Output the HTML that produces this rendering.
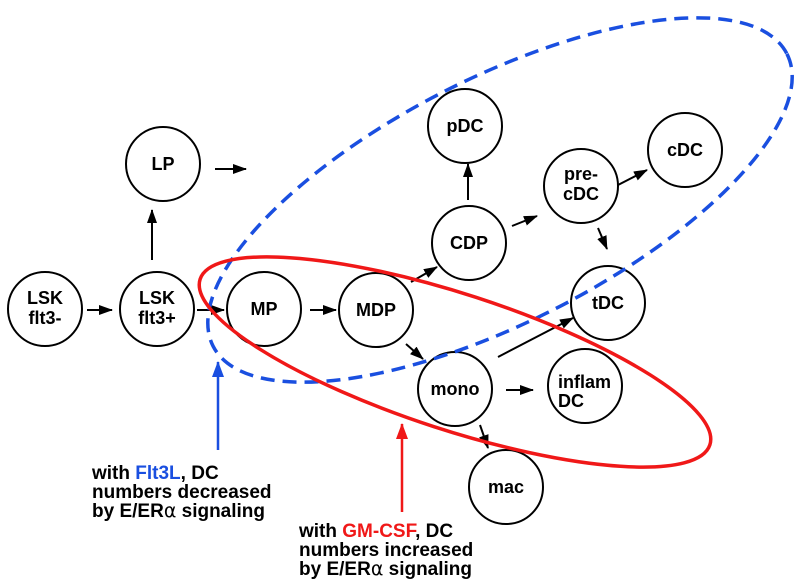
<!DOCTYPE html>
<html><head><style>body{margin:0;background:#fff}svg{display:block}
text{font-family:"Liberation Sans",Arial,sans-serif;font-weight:bold;font-size:18px;fill:#000}
.n{text-anchor:middle}
.lab{font-size:19px}
</style></head><body>
<svg width="800" height="586" viewBox="0 0 800 586">
<defs><marker id="a" markerWidth="14" markerHeight="10" refX="13" refY="5" orient="auto" markerUnits="userSpaceOnUse"><path d="M0,0L14,5L0,10z" fill="#000"/></marker>
<marker id="ab" markerWidth="16" markerHeight="12" refX="15" refY="6" orient="auto" markerUnits="userSpaceOnUse"><path d="M0,0L16,6L0,12z" fill="#1a4fe0"/></marker>
<marker id="ar" markerWidth="16" markerHeight="12" refX="15" refY="6" orient="auto" markerUnits="userSpaceOnUse"><path d="M0,0L16,6L0,12z" fill="#f01818"/></marker></defs>
<g fill="none" stroke="#000" stroke-width="2">
<circle cx="45" cy="309" r="37"/><circle cx="157" cy="309" r="37"/><circle cx="264" cy="309" r="37"/><circle cx="376" cy="310" r="37"/>
<circle cx="163" cy="164" r="37"/><circle cx="465" cy="126" r="37"/><circle cx="469" cy="243" r="37"/><circle cx="581" cy="186" r="37"/>
<circle cx="685" cy="150" r="37"/><circle cx="608" cy="303" r="37"/><circle cx="455" cy="389" r="37"/><circle cx="585" cy="386" r="37"/><circle cx="506" cy="487" r="37"/>
</g>
<g stroke="#000" stroke-width="2" marker-end="url(#a)">
<line x1="87" y1="310" x2="112" y2="310"/><line x1="197" y1="310" x2="224" y2="310"/><line x1="310" y1="310" x2="336" y2="310"/>
<line x1="152" y1="260" x2="152" y2="210"/><line x1="215" y1="169" x2="246" y2="169"/>
<line x1="411" y1="282" x2="437" y2="267"/><line x1="468" y1="200" x2="468" y2="164"/><line x1="512" y1="226" x2="537" y2="216"/>
<line x1="618" y1="185" x2="647" y2="170"/><line x1="598" y1="228" x2="607" y2="249"/><line x1="406" y1="344" x2="423" y2="359"/>
<line x1="498" y1="357" x2="573" y2="318"/><line x1="506" y1="390" x2="533" y2="390"/><line x1="480" y1="425" x2="488" y2="448"/>
</g>
<ellipse cx="500" cy="200" rx="322" ry="122" transform="rotate(-27 500 200)" fill="none" stroke="#1a4fe0" stroke-width="3.5" stroke-dasharray="14 8"/>
<ellipse cx="455" cy="362" rx="268" ry="68" transform="rotate(18 455 362)" fill="none" stroke="#f01818" stroke-width="3.5"/>
<line x1="218" y1="450" x2="218" y2="362" stroke="#1a4fe0" stroke-width="2.5" marker-end="url(#ab)"/>
<line x1="402" y1="512" x2="402" y2="424" stroke="#f01818" stroke-width="2.5" marker-end="url(#ar)"/>
<text class="n" x="45" y="304">LSK</text><text class="n" x="45" y="324">flt3-</text>
<text class="n" x="157" y="304">LSK</text><text class="n" x="157" y="324">flt3+</text>
<text class="n" x="264" y="315">MP</text><text class="n" x="376" y="316">MDP</text>
<text class="n" x="163" y="170">LP</text><text class="n" x="465" y="132">pDC</text><text class="n" x="469" y="249">CDP</text>
<text class="n" x="581" y="180">pre-</text><text class="n" x="581" y="200">cDC</text>
<text class="n" x="685" y="156">cDC</text><text class="n" x="608" y="309">tDC</text><text class="n" x="455" y="395">mono</text>
<text x="558" y="388">inflam</text><text x="558" y="407">DC</text><text class="n" x="506" y="493">mac</text>
<text class="lab" x="92" y="479">with <tspan fill="#1a4fe0">Flt3L</tspan>, DC</text>
<text class="lab" x="92" y="498">numbers decreased</text>
<text class="lab" x="92" y="517">by E/ER<tspan font-family="DejaVu Sans" font-weight="normal">α</tspan> signaling</text>
<text class="lab" x="299" y="537">with <tspan fill="#f01818">GM-CSF</tspan>, DC</text>
<text class="lab" x="299" y="556">numbers increased</text>
<text class="lab" x="299" y="575">by E/ER<tspan font-family="DejaVu Sans" font-weight="normal">α</tspan> signaling</text>
</svg>
</body></html>
